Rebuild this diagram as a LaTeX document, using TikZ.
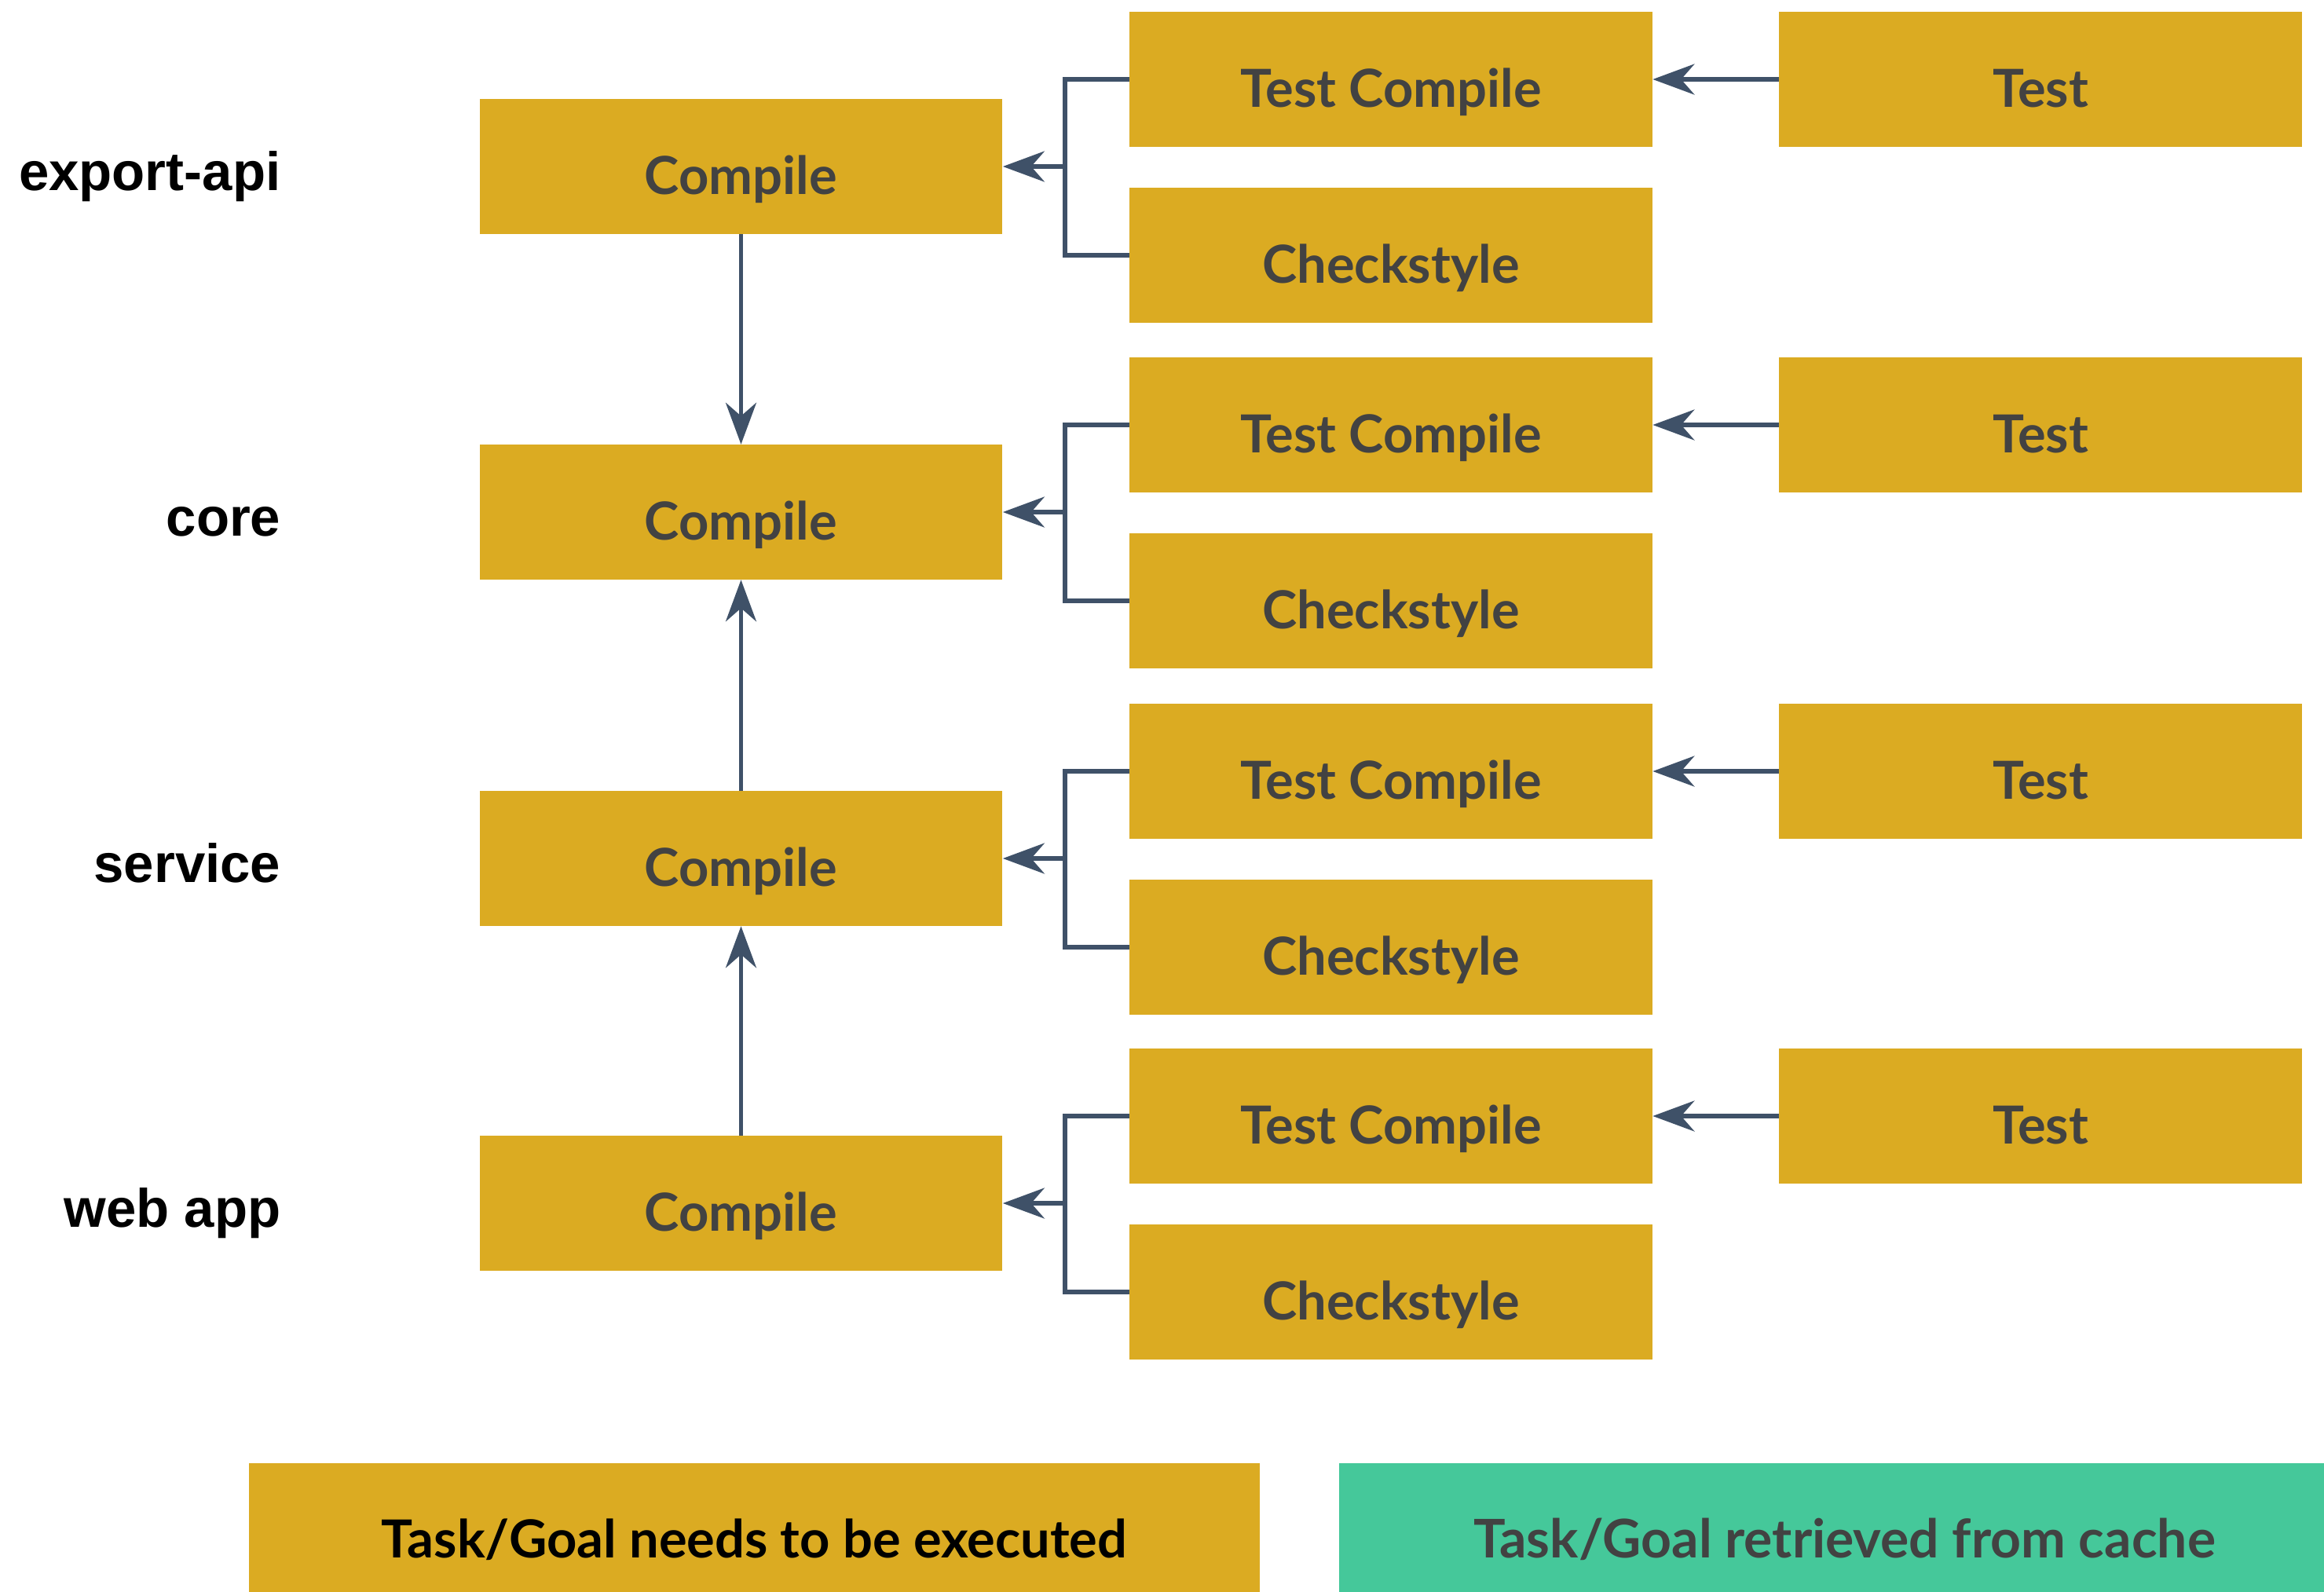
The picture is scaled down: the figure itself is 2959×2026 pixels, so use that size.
\documentclass[tikz,border=0pt]{standalone}
\usepackage{fontspec}
\setmainfont{Lato}
\newfontfamily\labelfont{Liberation Sans}
\usetikzlibrary{arrows.meta}
\definecolor{gold}{RGB}{219,171,34}
\definecolor{mint}{RGB}{69,200,154}
\definecolor{wire}{RGB}{63,81,104}
\definecolor{boxtext}{RGB}{66,66,66}
\tikzset{
  task/.style={fill=gold, inner sep=0pt, minimum width=6.65cm,
    text height=1.205cm, text depth=0.505cm, align=center,
    text=boxtext, font=\fontsize{19}{23}\selectfont\bfseries},
  legend/.style={task, minimum width=12.87cm},
  proj/.style={anchor=base east, inner sep=0pt, font=\labelfont\fontsize{19.6}{23}\selectfont\bfseries},
  wireline/.style={draw=wire, line width=1.45pt},
  arr/.style={wireline, -{Stealth[length=0.53cm, width=0.39cm, inset=0.17cm]}}
}
\begin{document}
\begin{tikzpicture}[x=0.01cm, y=-0.01cm]
\clip (0,0) rectangle (2959,2026);
\fill[white] (0,0) rectangle (2959,2026);
% rows
\foreach \r/\lab/\y in {1/export-api/212, 2/core/652, 3/service/1093, 4/web app/1532} {
  \node[task] (c\r) at (943.5,\y) {Compile};
  \node[task] (tc\r) at (1771,\y-111) {Test Compile};
  \node[task] (cs\r) at (1771,\y+113) {Checkstyle};
  \node[task] (t\r) at (2598,\y-111) {Test};
  \node[proj] (l\r) at (358,\y+30) {\lab};
  \coordinate (b\r) at (1356,\y);
  \draw[wireline] (tc\r.west) -| (b\r);
  \draw[wireline] (cs\r.west) -| (b\r);
  \draw[arr] (b\r) -- (c\r.east);
  \draw[arr] (t\r.west) -- (tc\r.east);
}
\draw[arr] (c1.south) -- (c2.north);
\draw[arr] (c3.north) -- (c2.south);
\draw[arr] (c4.north) -- (c3.south);
% legend
\node[legend, text=black] (lg1) at (960.5,1948.5) {Task/Goal needs to be executed};
\node[legend, fill=mint, anchor=west] (lg2) at (1704,1948.5) {\fontsize{19.3}{23}\selectfont Task/Goal retrieved from cache};
\end{tikzpicture}
\end{document}
